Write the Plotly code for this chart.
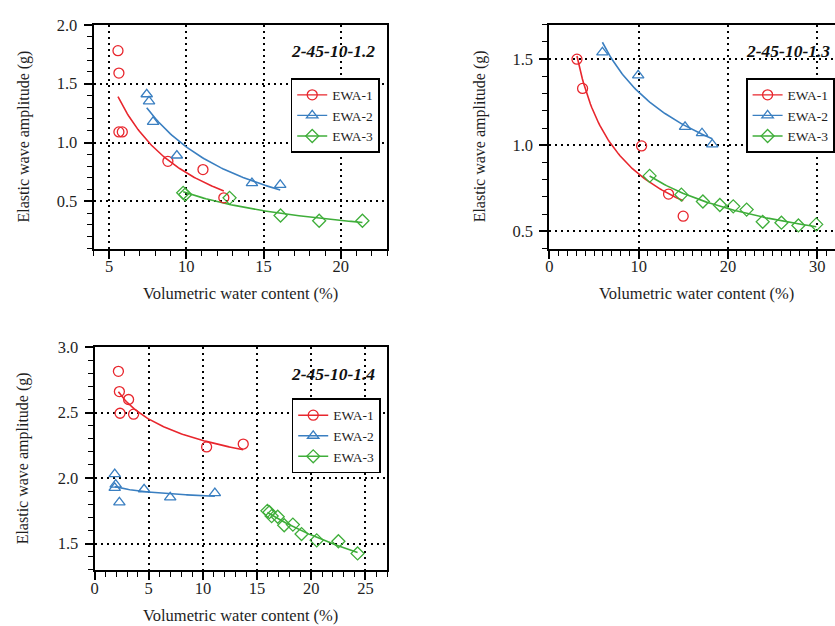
import numpy as np
import plotly.graph_objects as go

W, H = 835, 626

SERIES_NAMES = ["EWA-1", "EWA-2", "EWA-3"]
PANEL_TITLES = ["2-45-10-1.2", "2-45-10-1.3", "2-45-10-1.4"]
X_TITLE = "Volumetric water content (%)"
Y_TITLE = "Elastic wave amplitude (g)"

# ---- specimen 2-45-10-1.2 ----
a_ewa1_x = [5.58, 5.64, 5.64, 5.86, 8.81, 11.08, 12.43]
a_ewa1_y = [1.78, 1.59, 1.09, 1.09, 0.84, 0.77, 0.53]
a_ewa2_x = [7.44, 7.59, 7.85, 9.39, 14.25, 16.08]
a_ewa2_y = [1.41, 1.35, 1.175, 0.89, 0.655, 0.64]
a_ewa3_x = [9.80, 9.93, 12.8, 16.1, 18.6, 21.4]
a_ewa3_y = [0.573, 0.558, 0.53, 0.38, 0.336, 0.336]

# ---- specimen 2-45-10-1.3 ----
b_ewa1_x = [3.09, 3.72, 10.33, 13.35, 14.99]
b_ewa1_y = [1.50, 1.33, 0.996, 0.716, 0.588]
b_ewa2_x = [5.94, 9.95, 15.2, 17.1, 18.25]
b_ewa2_y = [1.54, 1.406, 1.107, 1.07, 1.005]
b_ewa3_x = [11.23, 14.79, 17.2, 19.1, 20.6, 22.1, 23.9, 26.0, 27.9, 29.9]
b_ewa3_y = [0.822, 0.713, 0.673, 0.653, 0.645, 0.626, 0.555, 0.55, 0.534, 0.54]

# ---- specimen 2-45-10-1.4 ----
c_ewa1_x = [2.20, 2.29, 3.14, 2.35, 3.60, 10.34, 13.72]
c_ewa1_y = [2.815, 2.66, 2.60, 2.495, 2.488, 2.238, 2.26]
c_ewa2_x = [1.86, 1.95, 1.86, 2.29, 4.57, 6.98, 11.1]
c_ewa2_y = [2.03, 1.95, 1.925, 1.815, 1.915, 1.853, 1.885]
c_ewa3_x = [15.95, 16.13, 16.34, 16.9, 17.5, 18.3, 19.1, 20.5, 22.5, 24.27]
c_ewa3_y = [1.75, 1.74, 1.71, 1.705, 1.64, 1.645, 1.573, 1.525, 1.518, 1.425]

COLORS = ["#e8262d", "#3a7fc1", "#3fae3a"]
SYMBOLS = ["circle-open", "triangle-up-open", "diamond-open"]
SERIF = "Liberation Serif"
INK = "#1e1e1e"


def px_x(p):
    return p / W


def px_y(p):
    return 1 - p / H


# panel layout in pixels: (left, right, top, bottom)
panels = [
    dict(title=PANEL_TITLES[0],
         data=[(a_ewa1_x, a_ewa1_y), (a_ewa2_x, a_ewa2_y), (a_ewa3_x, a_ewa3_y)],
         box=(90, 385, 16, 243), xr=[4, 23], yr=[0.1, 2.0], xd=5, yd=0.5,
         mirror_y=True, legend_pos=(288, 70), title_pos=(286, 43),
         ytitle_x=20, xtitle=(238, 289)),
    dict(title=PANEL_TITLES[1],
         data=[(b_ewa1_x, b_ewa1_y), (b_ewa2_x, b_ewa2_y), (b_ewa3_x, b_ewa3_y)],
         box=(548, 835, 16, 243), xr=[0, 32], yr=[0.4, 1.7], xd=10, yd=0.5,
         mirror_y=False, legend_pos=(746, 70), title_pos=(744, 43),
         ytitle_x=478, xtitle=(696, 289)),
    dict(title=PANEL_TITLES[2],
         data=[(c_ewa1_x, c_ewa1_y), (c_ewa2_x, c_ewa2_y), (c_ewa3_x, c_ewa3_y)],
         box=(91, 385, 343, 569), xr=[0, 27], yr=[1.3, 3.0], xd=5, yd=0.5,
         mirror_y=True, legend_pos=(289, 395), title_pos=(286, 370),
         ytitle_x=20, xtitle=(238, 615)),
]


def power_fit(x, y, n=80):
    lx, ly = np.log(np.asarray(x)), np.log(np.asarray(y))
    b, ln_a = np.polyfit(lx, ly, 1)
    xs = np.linspace(min(x), max(x), n)
    return xs, np.exp(ln_a) * xs ** b


def with_gaps(v):
    out = []
    for item in v:
        out += [item, None]
    return out


fig = go.Figure()
layout = dict(
    width=W, height=H, margin=dict(l=0, r=0, t=0, b=0),
    paper_bgcolor="white", plot_bgcolor="white",
    showlegend=True, annotations=[],
)

for k, p in enumerate(panels):
    idx = "" if k == 0 else str(k + 1)
    xa, ya = "x" + idx, "y" + idx
    leg = "legend" + idx
    for s, (xv, yv) in enumerate(p["data"]):
        fx, fy = power_fit(xv, yv)
        fig.add_trace(go.Scatter(
            x=fx, y=fy, mode="lines", xaxis=xa, yaxis=ya,
            line=dict(color=COLORS[s], width=1.6), showlegend=False,
            hoverinfo="skip"))
    for s, (xv, yv) in enumerate(p["data"]):
        fig.add_trace(go.Scatter(
            x=with_gaps(xv), y=with_gaps(yv), mode="lines+markers",
            connectgaps=False, xaxis=xa, yaxis=ya, legend=leg,
            name=SERIES_NAMES[s],
            line=dict(color=COLORS[s], width=1.4),
            marker=dict(symbol=SYMBOLS[s], size=10, color=COLORS[s],
                        line=dict(width=1.3, color=COLORS[s]))))

    l, r, t, b = p["box"]
    common = dict(
        showline=True, linecolor="black", linewidth=2,
        ticks="outside", ticklen=8, tickwidth=1.6, tickcolor="black",
        showgrid=True, gridcolor="black", gridwidth=1.7, griddash="2px,4px",
        zeroline=False,
        tickfont=dict(family=SERIF, size=16.5, color=INK),
    )
    layout["xaxis" + idx] = dict(
        common, domain=[px_x(l), px_x(r)], range=p["xr"], anchor=ya,
        tick0=0, dtick=p["xd"], mirror=True, ticklabelstandoff=-6,
        minor=dict(dtick=1, ticks="outside", ticklen=5, tickwidth=1.4,
                   tickcolor="black", showgrid=False))
    layout["yaxis" + idx] = dict(
        common, domain=[px_y(b), px_y(t)], range=p["yr"], anchor=xa,
        tick0=0, dtick=p["yd"], tickformat=".1f", mirror=p["mirror_y"],
        ticklabelstandoff=3,
        minor=dict(dtick=0.1, ticks="outside", ticklen=5, tickwidth=1.4,
                   tickcolor="black", showgrid=False))
    layout[leg] = dict(
        x=px_x(p["legend_pos"][0]), y=px_y(p["legend_pos"][1]),
        xanchor="left", yanchor="top", xref="paper", yref="paper",
        bgcolor="white", bordercolor="black", borderwidth=1.6,
        font=dict(family=SERIF, size=13.5, color=INK),
        itemwidth=30, tracegroupgap=0)

    tx, ty = p["title_pos"]
    layout["annotations"].append(dict(
        text="<b><i>%s</i></b>" % p["title"], xref="paper", yref="paper",
        x=px_x(tx), y=px_y(ty), xanchor="left", yanchor="middle",
        showarrow=False, font=dict(family=SERIF, size=17.5, color="#111")))
    layout["annotations"].append(dict(
        text=Y_TITLE, xref="paper", yref="paper", textangle=-90,
        x=px_x(p["ytitle_x"]), y=px_y((t + b) / 2),
        xanchor="center", yanchor="middle", showarrow=False,
        font=dict(family=SERIF, size=16, color=INK)))
    xt, yt = p["xtitle"]
    layout["annotations"].append(dict(
        text=X_TITLE, xref="paper", yref="paper",
        x=px_x(xt), y=px_y(yt), xanchor="center", yanchor="middle",
        showarrow=False, font=dict(family=SERIF, size=16.5, color=INK)))

fig.update_layout(**layout)
fig.write_html("out.html")
